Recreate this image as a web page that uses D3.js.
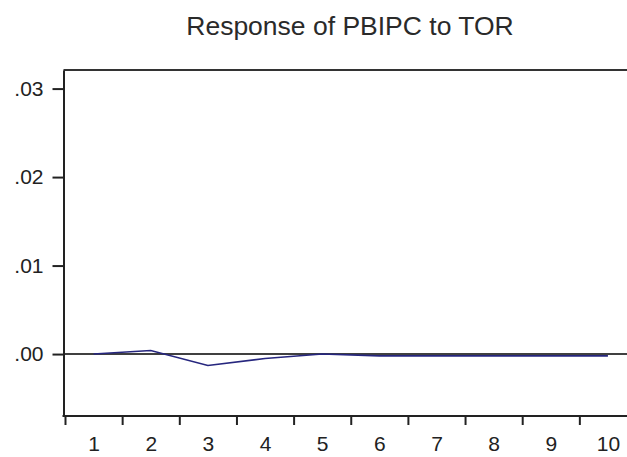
<!DOCTYPE html>
<html>
<head>
<meta charset="utf-8">
<script src="https://cdn.jsdelivr.net/npm/d3@7"></script>
<style>
  body { margin: 0; background: #fff; }
  svg { display: block; font-family: "Liberation Sans", Arial, sans-serif; }
  .axis text { fill: #222; font-size: 21px; }
  .axis path, .axis line { stroke: #222; stroke-width: 2; }
</style>
</head>
<body>
<script>
//W and H
var w = 627;
var h = 457;

//data
var periods = [1, 2, 3, 4, 5, 6, 7, 8, 9, 10];
var response = [0.0000, 0.0004, -0.0013, -0.0005, 0.0000, -0.0002, -0.0002, -0.0002, -0.0002, -0.0002];
var yTicks = [0.03, 0.02, 0.01, 0.00];
var title = "Response of PBIPC to TOR";

//plot box (right side runs off the page)
var plotLeft = 63.5, plotTop = 70, plotBottom = 416;

//Scales
var x = d3.scaleLinear()
    .domain([0.5, 10.5])
    .range([65, 636.5]);

var y = d3.scaleLinear()
    .domain([-0.0070, 0.0321])
    .range([plotBottom, plotTop]);

//format .03 style labels
var fmt = function(d) { return d3.format(".2f")(d).replace(/^0/, ""); };

var svg = d3.select("body")
    .append("svg")
    .attr("width", w)
    .attr("height", h);

//title
svg.append("text")
    .attr("x", 350)
    .attr("y", 35)
    .attr("text-anchor", "middle")
    .attr("fill", "#2a2a2a")
    .style("font-size", "26.5px")
    .text(title);

//frame top
svg.append("line")
    .attr("x1", plotLeft).attr("x2", w)
    .attr("y1", plotTop).attr("y2", plotTop)
    .attr("stroke", "#333").attr("stroke-width", 2);

//zero line
svg.append("line")
    .attr("x1", plotLeft).attr("x2", w)
    .attr("y1", y(0)).attr("y2", y(0))
    .attr("stroke", "#000").attr("stroke-width", 1.5);

//response line
var line = d3.line()
    .x(function(d, i) { return x(periods[i]); })
    .y(function(d) { return y(d); });

svg.append("path")
    .datum(response)
    .attr("fill", "none")
    .attr("stroke", "#26267e")
    .attr("stroke-width", 1.6)
    .attr("d", line);

//y axis
var yAxis = d3.axisLeft(y)
    .tickValues(yTicks)
    .tickFormat(fmt)
    .tickSize(11)
    .tickSizeOuter(0)
    .tickPadding(9);

svg.append("g")
    .attr("class", "axis")
    .attr("transform", "translate(" + plotLeft + ",0)")
    .call(yAxis);

//x axis: ticks on period boundaries
var xTicks = periods.map(function(p) { return p - 0.5; });

var xAxis = d3.axisBottom(x)
    .tickValues(xTicks)
    .tickFormat("")
    .tickSize(9)
    .tickSizeOuter(0);

var gx = svg.append("g")
    .attr("class", "axis")
    .attr("transform", "translate(0," + plotBottom + ")")
    .call(xAxis);

gx.select(".domain").remove();

svg.append("line")
    .attr("x1", plotLeft - 1).attr("x2", w)
    .attr("y1", plotBottom).attr("y2", plotBottom)
    .attr("stroke", "#222").attr("stroke-width", 2);

//x labels centred in each period
var xLabels = d3.axisBottom(x)
    .tickValues(periods)
    .tickFormat(d3.format("d"))
    .tickSize(0)
    .tickPadding(20);

var gl = svg.append("g")
    .attr("class", "axis")
    .attr("transform", "translate(0," + plotBottom + ")")
    .call(xLabels);

gl.select(".domain").remove();
</script>
</body>
</html>
